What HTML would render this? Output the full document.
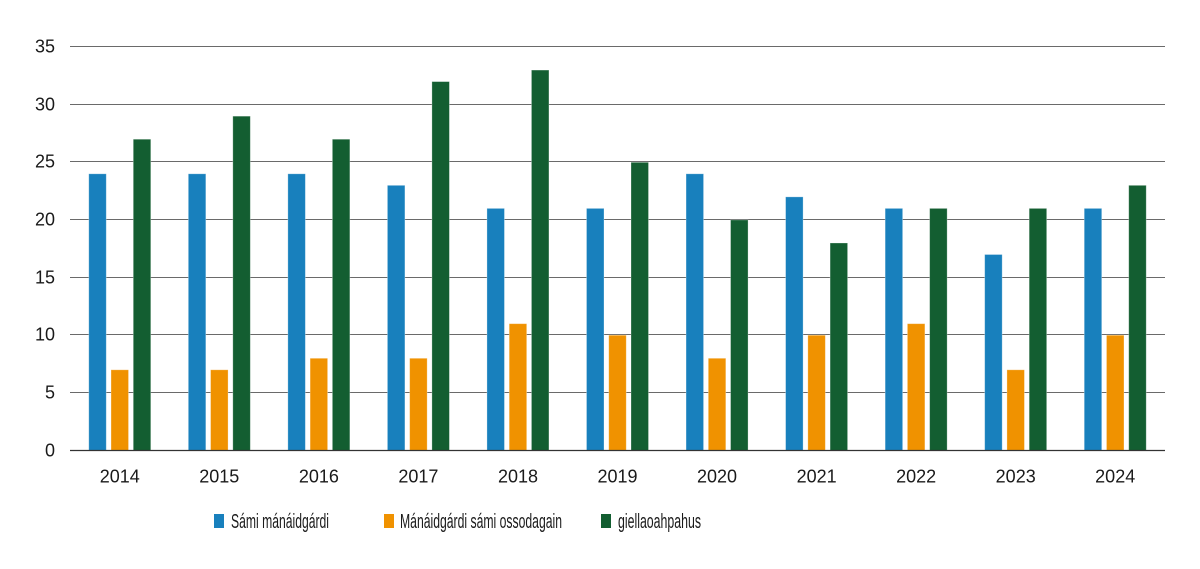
<!DOCTYPE html>
<html><head><meta charset="utf-8"><style>
html,body{margin:0;padding:0;background:#fff;}
svg{display:block;}
text{font-family:"Liberation Sans",sans-serif;fill:#1a1a1a;}
</style></head><body>
<svg width="1200" height="569" viewBox="0 0 1200 569" xmlns="http://www.w3.org/2000/svg">
<g stroke="#6a6a6a" stroke-width="1">
<line x1="70" x2="1165" y1="46.5" y2="46.5"/>
<line x1="70" x2="1165" y1="104.5" y2="104.5"/>
<line x1="70" x2="1165" y1="161.5" y2="161.5"/>
<line x1="70" x2="1165" y1="219.5" y2="219.5"/>
<line x1="70" x2="1165" y1="277.5" y2="277.5"/>
<line x1="70" x2="1165" y1="334.5" y2="334.5"/>
<line x1="70" x2="1165" y1="392.5" y2="392.5"/>
</g>
<g font-size="18" text-anchor="end">
<text x="55" y="52.5">35</text>
<text x="55" y="110.5">30</text>
<text x="55" y="167.5">25</text>
<text x="55" y="225.5">20</text>
<text x="55" y="283.5">15</text>
<text x="55" y="340.5">10</text>
<text x="55" y="398.5">5</text>
<text x="55" y="456.5">0</text>
</g>
<g id="bars"></g>
<line x1="70" x2="1165" y1="450.5" y2="450.5" stroke="#333" stroke-width="1.2"/>
<g font-size="18" text-anchor="middle" id="xl"></g>
<g>
<rect x="214" y="514" width="10" height="14" fill="#1880bd"/>
<text x="231" y="528" font-size="20" textLength="98" lengthAdjust="spacingAndGlyphs">Sámi mánáidgárdi</text>
<rect x="384" y="514" width="10" height="14" fill="#f09200"/>
<text x="400" y="528" font-size="20" textLength="162" lengthAdjust="spacingAndGlyphs">Mánáidgárdi sámi ossodagain</text>
<rect x="601" y="514" width="10" height="14" fill="#135e31"/>
<text x="618" y="528" font-size="20" textLength="83" lengthAdjust="spacingAndGlyphs">giellaoahpahus</text>
</g>
<script>
(function(){
var d=[[24,7,27],[24,7,29],[24,8,27],[23,8,32],[21,11,33],[21,10,25],[24,8,20],[22,10,18],[21,11,21],[17,7,21],[21,10,23]];
var cols=["#1880bd","#f09200","#135e31"];
var ns="http://www.w3.org/2000/svg";
var g=document.getElementById("bars"),xl=document.getElementById("xl");
var pitch=(1165-70)/11, s=(450-46.5)/35, w=17.5;
for(var i=0;i<11;i++){
 var c=70+pitch*(i+0.5);
 var offs=[-31,-8.75,13.5];
 for(var j=0;j<3;j++){
  var h=d[i][j]*s;
  var r=document.createElementNS(ns,"rect");
  r.setAttribute("x",(c+offs[j]).toFixed(2));
  r.setAttribute("y",(450.5-h).toFixed(2));
  r.setAttribute("width",w);
  r.setAttribute("height",h.toFixed(2));
  r.setAttribute("fill",cols[j]);
  r.setAttribute("stroke","#ffffff");
  r.setAttribute("stroke-opacity","0.35");
  r.setAttribute("stroke-width","0.8");
  g.appendChild(r);
 }
 var t=document.createElementNS(ns,"text");
 t.setAttribute("x",c.toFixed(1));
 t.setAttribute("y","482.5");
 t.textContent=String(2014+i);
 xl.appendChild(t);
}
})();
</script>
</svg>
</body></html>
